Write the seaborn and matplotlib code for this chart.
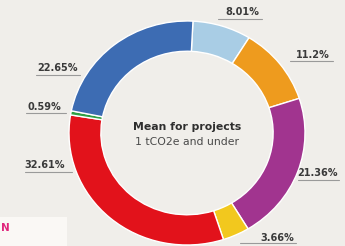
import matplotlib
matplotlib.use("Agg")
import matplotlib.pyplot as plt
import seaborn as sns

# ---- data ----
categories = ["A", "B", "C", "D", "E", "F", "G"]
shares = [8.01, 11.2, 21.36, 3.66, 32.61, 0.59, 22.65]
labels = ["8.01%", "11.2%", "21.36%", "3.66%", "32.61%", "0.59%", "22.65%"]
colors_hex = ["#a9cde5", "#ee9b1e", "#a1348f", "#f2c81e", "#e2121b", "#2f9f45", "#3d6cb3"]
title_main = "Mean for projects"
title_sub = "1 tCO2e and under"

sns.set_theme(style="white")
plt.rcParams["font.family"] = ["DejaVu Sans"]
palette = sns.color_palette(colors_hex)

W, H = 345, 246
BG = "#f0eeea"
fig = plt.figure(figsize=(W / 100, H / 100), dpi=100, facecolor=BG)

# background axes in pixel coordinates
bg = fig.add_axes([0, 0, 1, 1])
bg.set_xlim(0, W)
bg.set_ylim(H, 0)
bg.set_facecolor(BG)
bg.axis("off")

# donut axes (elliptical bounding box)
cx, cy, rx, ry = 187, 133, 118, 112
pax = fig.add_axes([(cx - rx) / W, (H - (cy + ry)) / H, 2 * rx / W, 2 * ry / H])
pax.pie(shares, colors=palette, startangle=87.1, counterclock=False,
        radius=1.0, wedgeprops=dict(width=0.27, edgecolor="white", linewidth=1.0))
pax.set_xlim(-1.0, 1.0)
pax.set_ylim(-1.0, 1.0)
pax.set_aspect("auto")
pax.axis("off")

# labels with underlines (pixel positions)
label_pos = {
    "8.01%": (242, 12, 218, 262, 19),
    "11.2%": (313, 55, 290, 333, 61),
    "21.36%": (318, 173, 298, 339, 180),
    "3.66%": (277, 238, 240, 296, 243),
    "32.61%": (45, 165, 25, 72, 172),
    "0.59%": (44, 107, 26, 66, 113),
    "22.65%": (57, 68, 36, 80, 75),
}
for lab in labels:
    tx, ty, x0, x1, ly = label_pos[lab]
    bg.text(tx, ty, lab, ha="center", va="center", fontsize=7,
            fontweight="bold", color="#3a3a3a")
    bg.plot([x0, x1], [ly, ly], color="#9a9a9a", lw=0.8)

# center text
bg.text(cx, 127, title_main, ha="center", va="center", fontsize=7.8,
        fontweight="bold", color="#2e2e2e")
bg.text(cx, 142, title_sub, ha="center", va="center", fontsize=7.8,
        color="#4a4a4a")

# cropped legend box bottom-left
bg.add_patch(plt.Rectangle((0, 217), 67, 30, facecolor="#faf8f5", edgecolor="none"))
bg.text(1, 228, "N", ha="left", va="center", fontsize=7.5, fontweight="bold",
        color="#e0267c")

fig.savefig("out.png", dpi=100, facecolor=BG)
